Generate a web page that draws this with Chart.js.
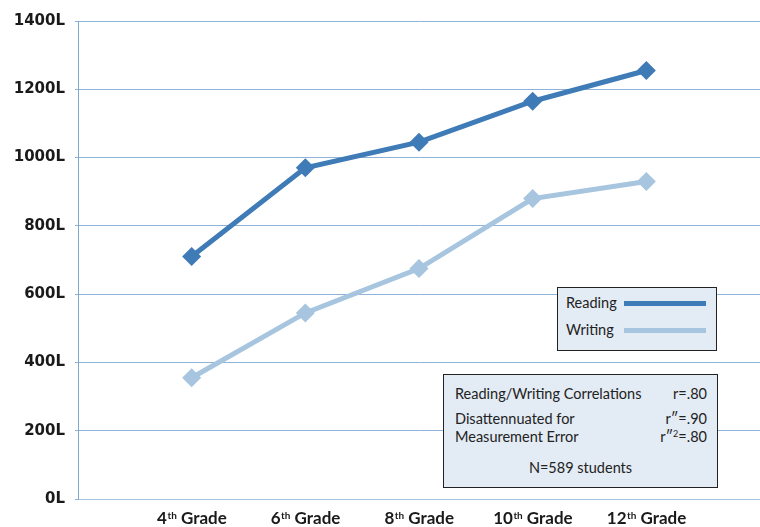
<!DOCTYPE html>
<html>
<head>
<meta charset="utf-8">
<script src="https://cdn.jsdelivr.net/npm/chart.js@4/dist/chart.umd.min.js"></script>
<style>
  html, body { margin: 0; padding: 0; background: #fff; }
  #wrap { position: relative; width: 760px; height: 527px; }
  canvas { position: absolute; left: 0; top: 0; }
  .box { position: absolute; background: #e3ebf4; border: 1.5px solid #222; box-sizing: border-box;
         font-family: "Lato", "Open Sans", sans-serif; color: #222; font-size: 14.5px; }
  #legend { left: 557px; top: 287px; width: 160px; height: 64px; }
  #legend .row { position: absolute; left: 8px; }
  #legend .ln { position: absolute; left: 66px; width: 82px; height: 5px; }
  #stats { left: 443px; top: 374px; width: 275px; height: 114px; }
  #stats div { position: absolute; white-space: nowrap; }
  sup { font-size: 9px; line-height: 0; vertical-align: 5px; }
</style>
</head>
<body>
<div id="wrap">
  <canvas id="c" width="760" height="527"></canvas>
  <div id="legend" class="box">
    <div class="row" style="top:6px">Reading</div>
    <div class="ln" style="top:13px;background:#3f7bb6"></div>
    <div class="row" style="top:33px">Writing</div>
    <div class="ln" style="top:40px;background:#a7c5df"></div>
  </div>
  <div id="stats" class="box">
    <div style="left:11px;top:10px">Reading/Writing Correlations</div>
    <div style="right:10px;top:10px">r=.80</div>
    <div style="left:11px;top:35px">Disattennuated for</div>
    <div style="right:10px;top:35px">r″=.90</div>
    <div style="left:11px;top:53px">Measurement Error</div>
    <div style="right:10px;top:53px">r″<sup>2</sup>=.80</div>
    <div style="left:0;right:0;text-align:center;top:84px">N=589 students</div>
  </div>
</div>
<script>
const grades = [4, 6, 8, 10, 12];
const gradeLabels = ["4", "6", "8", "10", "12"];
const reading = [710, 970, 1045, 1165, 1255];
const writing = [355, 545, 675, 880, 930];
const yTicks = [0, 200, 400, 600, 800, 1000, 1200, 1400];

const readingColor = "#3f7bb6";
const writingColor = "#a7c5df";

const xLabelPlugin = {
  id: "xLabels",
  afterDraw(chart) {
    const ctx = chart.ctx;
    const xs = chart.scales.x;
    ctx.save();
    ctx.fillStyle = "#1a1a1a";
    ctx.textBaseline = "alphabetic";
    grades.forEach((g, i) => {
      const cx = xs.getPixelForValue(g);
      const num = gradeLabels[i];
      const big = "bold 17px Lato, 'Liberation Sans', sans-serif";
      const small = "bold 10px Lato, 'Liberation Sans', sans-serif";
      ctx.font = big; const wn = ctx.measureText(num).width;
      const wg = ctx.measureText(" Grade").width;
      ctx.font = small; const wt = ctx.measureText("th").width;
      let x = cx - (wn + wt + wg) / 2;
      const y = 524;
      ctx.textAlign = "left";
      ctx.font = big; ctx.fillText(num, x, y); x += wn + 0.5;
      ctx.font = small; ctx.fillText("th", x, y - 5); x += wt;
      ctx.font = big; ctx.fillText(" Grade", x, y);
    });
    ctx.restore();
  }
};

new Chart(document.getElementById("c"), {
  type: "line",
  data: {
    datasets: [
      { label: "Reading", data: grades.map((g, i) => ({ x: g, y: reading[i] })),
        borderColor: readingColor, backgroundColor: readingColor, borderWidth: 5,
        pointStyle: "rectRot", pointRadius: 6, pointHoverRadius: 6, tension: 0 },
      { label: "Writing", data: grades.map((g, i) => ({ x: g, y: writing[i] })),
        borderColor: writingColor, backgroundColor: writingColor, borderWidth: 5,
        pointStyle: "rectRot", pointRadius: 6, pointHoverRadius: 6, tension: 0 }
    ]
  },
  options: {
    responsive: false,
    animation: false,
    layout: { autoPadding: false, padding: { top: 21, right: 0, left: 0, bottom: 0 } },
    plugins: { legend: { display: false }, tooltip: { enabled: false } },
    scales: {
      x: {
        type: "linear", min: 2, max: 14,
        afterFit(s) { s.height = 28; },
        ticks: { display: false },
        grid: { display: false },
        border: { display: true, color: "#a7c5df", width: 1 }
      },
      y: {
        min: 0, max: 1400,
        afterFit(s) { s.width = 78; },
        afterBuildTicks(s) { s.ticks = yTicks.map(v => ({ value: v })); },
        ticks: {
          callback: v => v + "L",
          color: "#1a1a1a",
          padding: 10,
          font: { family: "'DejaVu Sans', Verdana, sans-serif", weight: "bold", size: 15 }
        },
        grid: { color: "#8fb3d8", lineWidth: 1, tickLength: 3, drawTicks: true },
        border: { display: true, color: "#7fa8d2", width: 1 }
      }
    }
  },
  plugins: [xLabelPlugin]
});
</script>
</body>
</html>
